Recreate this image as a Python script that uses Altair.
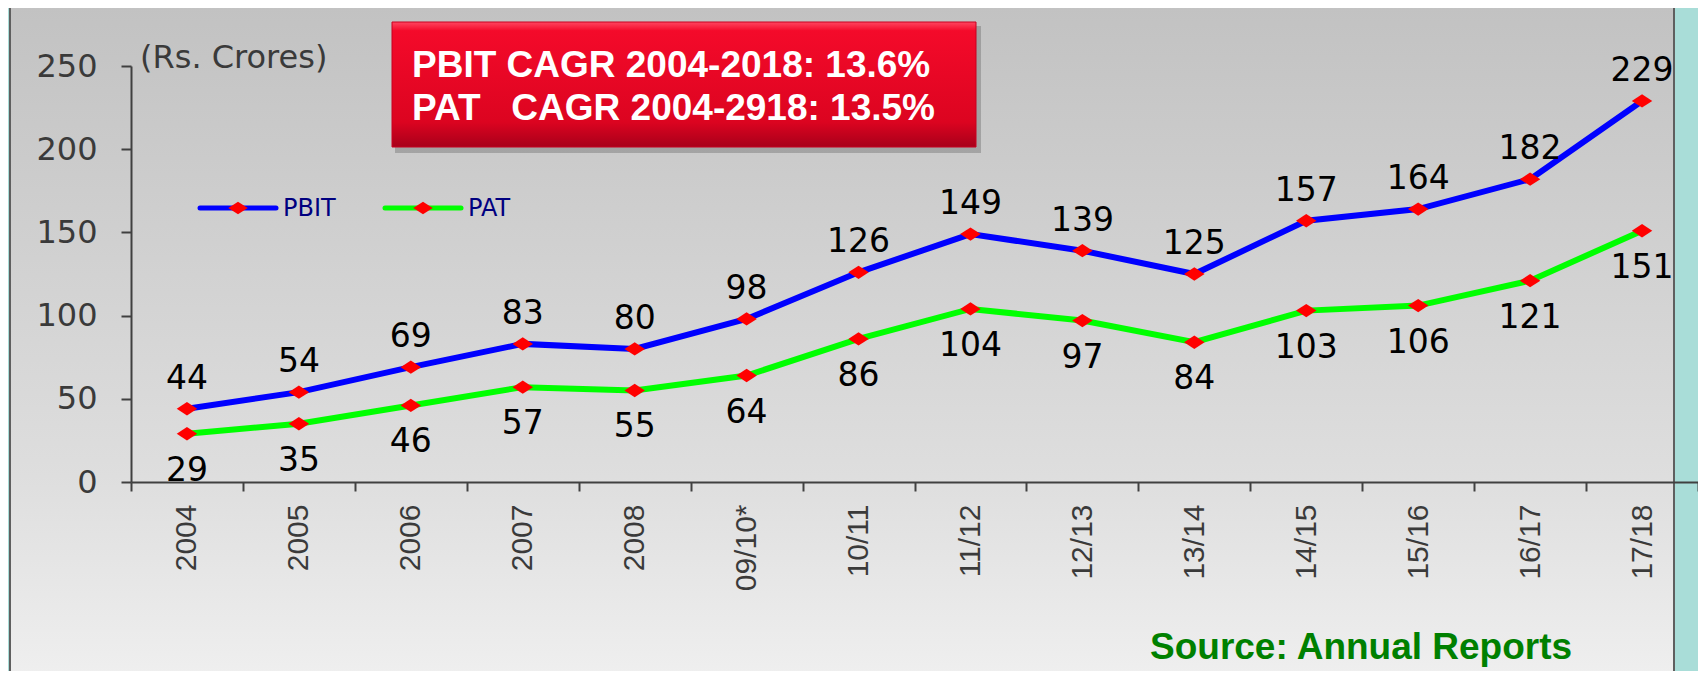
import altair as alt
import pandas as pd

categories = ["2004", "2005", "2006", "2007", "2008", "09/10*", "10/11", "11/12",
              "12/13", "13/14", "14/15", "15/16", "16/17", "17/18"]
pbit = [44, 54, 69, 83, 80, 98, 126, 149, 139, 125, 157, 164, 182, 229]
pat = [29, 35, 46, 57, 55, 64, 86, 104, 97, 84, 103, 106, 121, 151]
series_names = ["PBIT", "PAT"]
series_colors = ["#0000ff", "#00ff00"]
y_ticks = [0, 50, 100, 150, 200, 250]
cagr_lines = ["PBIT CAGR 2004-2018: 13.6%", "PAT\u00a0\u00a0 CAGR 2004-2918: 13.5%"]
unit_text = "(Rs. Crores)"
source_text = "Source: Annual Reports"

df = pd.DataFrame({
    "cat": categories * 2,
    "series": [series_names[0]] * len(pbit) + [series_names[1]] * len(pat),
    "value": pbit + pat,
})
one = pd.DataFrame({"a": [0]})

W, H = 1567, 416
xenc = alt.X("cat:N", sort=categories,
             scale=alt.Scale(type="band", paddingInner=0, paddingOuter=0),
             bandPosition=0.5,
             axis=alt.Axis(title=None, labelAngle=270, tickBand="extent",
                           labelFont="Liberation Sans", labelFontSize=30,
                           labelColor="#3a3a3a", domainColor="#404040",
                           tickColor="#404040", domainWidth=2, tickWidth=2,
                           tickSize=9, labelPadding=13, zindex=2))
yenc = alt.Y("value:Q", scale=alt.Scale(domain=[0, 250], nice=False),
             axis=alt.Axis(title=None, values=y_ticks, grid=False,
                           labelFont="DejaVu Sans", labelFontSize=32,
                           labelColor="#3a3a3a", domainColor="#404040",
                           tickColor="#404040", domainWidth=2, tickWidth=2,
                           tickSize=10, labelPadding=24, zindex=2))
color = alt.Color("series:N", scale=alt.Scale(domain=series_names, range=series_colors),
                  legend=None)

panel_fill = alt.Gradient(gradient="linear", x1=0, x2=0, y1=0, y2=1, stops=[
    alt.GradientStop(color="#c2c2c2", offset=0),
    alt.GradientStop(color="#dedede", offset=0.7),
    alt.GradientStop(color="#efefef", offset=1)])
panel = alt.Chart(one).mark_rect(fill=panel_fill, stroke="#5f5f5f", strokeWidth=2).encode(
    x=alt.value(-121), x2=alt.value(1543), y=alt.value(-59), y2=alt.value(611))

red_fill = alt.Gradient(gradient="linear", x1=0, x2=0, y1=0, y2=1, stops=[
    alt.GradientStop(color="#ff4560", offset=0),
    alt.GradientStop(color="#f40a2a", offset=0.07),
    alt.GradientStop(color="#dc0420", offset=0.8),
    alt.GradientStop(color="#a8001a", offset=1)])
shadow = alt.Chart(one).mark_rect(fill="#6a6a6a", opacity=0.4).encode(
    x=alt.value(264), x2=alt.value(850), y=alt.value(-40), y2=alt.value(87))
redbox = alt.Chart(one).mark_rect(fill=red_fill, stroke="#c80020", strokeWidth=1).encode(
    x=alt.value(261), x2=alt.value(845), y=alt.value(-44), y2=alt.value(81))
cagr1 = alt.Chart(one).mark_text(text=cagr_lines[0], align="left", baseline="alphabetic",
                                 font="Liberation Sans", fontWeight="bold", fontSize=37,
                                 color="#ffffff").encode(x=alt.value(281), y=alt.value(11))
cagr2 = alt.Chart(one).mark_text(text=cagr_lines[1], align="left", baseline="alphabetic",
                                 font="Liberation Sans", fontWeight="bold", fontSize=37,
                                 color="#ffffff").encode(x=alt.value(281), y=alt.value(54))
unit = alt.Chart(one).mark_text(text=unit_text, align="left", baseline="alphabetic",
                                font="DejaVu Sans", fontSize=32, color="#3a3a3a").encode(
    x=alt.value(9), y=alt.value(2))
source = alt.Chart(one).mark_text(text=source_text, align="left", baseline="alphabetic",
                                  font="Liberation Sans", fontWeight="bold", fontSize=37,
                                  color="#008000").encode(x=alt.value(1019), y=alt.value(593))

diamond = "M-1,0L0,-0.65L1,0L0,0.65Z"
leg = []
for name, col, x0, tx in [(series_names[0], series_colors[0], 69, 152),
                          (series_names[1], series_colors[1], 254, 337)]:
    leg.append(alt.Chart(one).mark_rule(stroke=col, strokeWidth=5, strokeCap="round").encode(
        x=alt.value(x0), x2=alt.value(x0 + 76), y=alt.value(142)))
    leg.append(alt.Chart(one).mark_point(shape=diamond, filled=True, color="#ff0000",
                                         size=380, opacity=1).encode(
        x=alt.value(x0 + 38), y=alt.value(142)))
    leg.append(alt.Chart(one).mark_text(text=name, align="left", baseline="middle",
                                        font="DejaVu Sans", fontSize=24, color="#000080").encode(
        x=alt.value(tx), y=alt.value(143)))

base = alt.Chart(df).encode(x=xenc, y=yenc)
lines = base.mark_line(strokeWidth=6).encode(color=color)
pts = base.mark_point(shape=diamond, filled=True, color="#ff0000", size=420, opacity=1)
lab_pbit = base.transform_filter(alt.datum.series == series_names[0]).mark_text(
    dy=-20, baseline="alphabetic", font="DejaVu Sans", fontSize=33, color="#000000").encode(
    text="value:Q")
lab_pat = base.transform_filter(alt.datum.series == series_names[1]).mark_text(
    dy=47, baseline="alphabetic", font="DejaVu Sans", fontSize=33, color="#000000").encode(
    text="value:Q")

chart = alt.layer(panel, shadow, redbox, cagr1, cagr2, unit, source, *leg,
                  lines, pts, lab_pbit, lab_pat).properties(
    width=W, height=H,
    autosize=alt.AutoSizeParams(type="none"),
    padding={"left": 123, "top": 58, "right": 0, "bottom": 189},
    background="#a9ddd8",
).configure_view(stroke=None)

chart.save("out.html", embed_options={"renderer": "svg", "actions": False})
